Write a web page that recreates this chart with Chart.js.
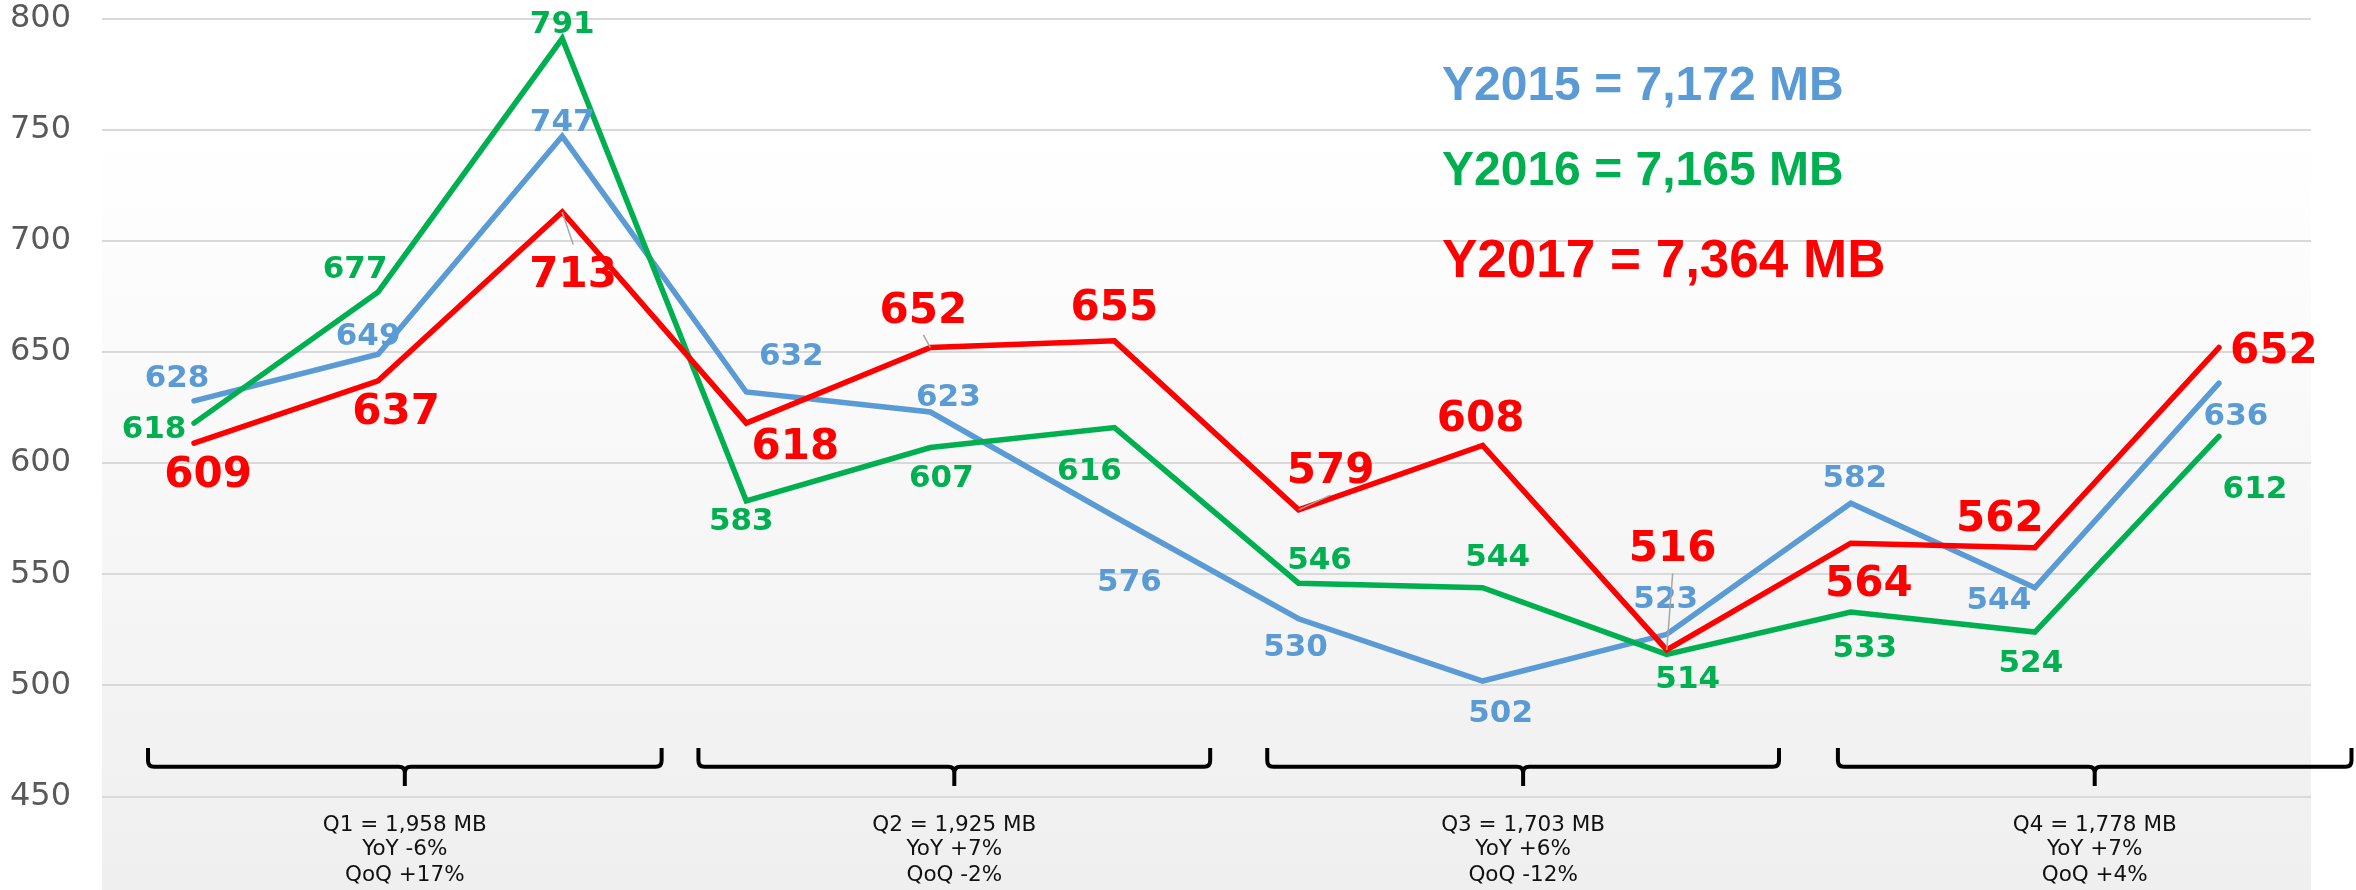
<!DOCTYPE html>
<html>
<head>
<meta charset="utf-8">
<script src="https://cdn.jsdelivr.net/npm/chart.js@4/dist/chart.umd.min.js"></script>
<style>
  html, body { margin: 0; padding: 0; background: #ffffff; }
  #wrap { width: 2356px; height: 890px; position: relative; }
</style>
</head>
<body>
<div id="wrap"><canvas id="c" width="2356" height="890"></canvas></div>
<script>
// ---------------- DATA ----------------
const months = ['Jan', 'Feb', 'Mar', 'Apr', 'May', 'Jun', 'Jul', 'Aug', 'Sep', 'Oct', 'Nov', 'Dec'];
const y2015 = [628, 649, 747, 632, 623, 576, 530, 502, 523, 582, 544, 636];
const y2016 = [618, 677, 791, 583, 607, 616, 546, 544, 514, 533, 524, 612];
const y2017 = [609, 637, 713, 618, 652, 655, 579, 608, 516, 564, 562, 652];
const seriesNames = ['Y2015', 'Y2016', 'Y2017'];
const yearTotals = ['Y2015 = 7,172 MB', 'Y2016 = 7,165 MB', 'Y2017 = 7,364 MB'];
const yTicks = [450, 500, 550, 600, 650, 700, 750, 800];
const quarterLines = [
  ['Q1 = 1,958 MB', 'YoY -6%', 'QoQ +17%'],
  ['Q2 = 1,925 MB', 'YoY +7%', 'QoQ -2%'],
  ['Q3 = 1,703 MB', 'YoY +6%', 'QoQ -12%'],
  ['Q4 = 1,778 MB', 'YoY +7%', 'QoQ +4%']
];

// ---------------- STYLE / LAYOUT ----------------
const colors = ['#5b9bd5', '#00b050', '#ff0000'];
// label offsets (pixels, label centre relative to the point)
const labelOffsets = [
  [[-17,-25],[-10,-21],[0,-17],[45,-38],[18,-17],[15,63],[-3,26],[18,30],[-1,-38],[4,-27],[-36,10],[17,31]],
  [[-40,4],[-23,-25],[0,-17],[-5,18],[11,28],[-25,41],[21,-25],[15,-33],[21,22],[14,34],[-4,29],[36,50]],
  [[14,29],[18,28],[11,60],[49,21],[-7,-40],[0,-36],[32,-42],[-2,-30],[6,-104],[18,38],[-35,-32],[55,0]]
];
const labelSizes = [31, 31, 42];
const leaderIdx = [[], [], [2, 4, 6, 8]];
// bracket spans in category units
const bracketSpans = [[-0.25, 2.54], [2.74, 5.52], [5.83, 8.61], [8.93, 11.72]];

const bgPlugin = {
  id: 'bg',
  beforeDraw(chart) {
    const { ctx, chartArea: a } = chart;
    ctx.save();
    ctx.fillStyle = '#ffffff';
    ctx.fillRect(0, 0, chart.width, chart.height);
    const g = ctx.createLinearGradient(0, a.top, 0, a.bottom);
    g.addColorStop(0, '#ffffff');
    g.addColorStop(0.13, '#ffffff');
    g.addColorStop(1, '#efefef');
    ctx.fillStyle = g;
    ctx.fillRect(a.left, a.top, a.right - a.left, a.bottom - a.top);
    ctx.restore();
  }
};

const labelPlugin = {
  id: 'vlabels',
  afterDatasetsDraw(chart) {
    const ctx = chart.ctx;
    chart.data.datasets.forEach((ds, di) => {
      const meta = chart.getDatasetMeta(di);
      const size = labelSizes[di];
      const capH = size * 0.729;
      ctx.save();
      ctx.font = 'bold ' + size + 'px "DejaVu Sans"';
      meta.data.forEach((pt, i) => {
        const off = labelOffsets[di][i];
        const cx = pt.x + off[0], cy = pt.y + off[1];
        if (leaderIdx[di].includes(i)) {
          const hh = capH / 2 + 12;
          const ey = cy + (pt.y > cy ? hh : -hh);
          ctx.strokeStyle = '#a6a6a6';
          ctx.lineWidth = 1.5;
          ctx.beginPath();
          ctx.moveTo(pt.x, pt.y);
          ctx.lineTo(cx, ey);
          ctx.stroke();
        }
        ctx.fillStyle = colors[di];
        ctx.textAlign = 'center';
        ctx.textBaseline = 'alphabetic';
        ctx.fillText(String(ds.data[i]), cx, cy + capH / 2);
      });
      ctx.restore();
    });
  }
};

const annoPlugin = {
  id: 'anno',
  afterDraw(chart) {
    const ctx = chart.ctx;
    const xs = chart.scales.x, ys = chart.scales.y;
    ctx.save();
    // year totals
    const totalSizes = [48, 48, 53];
    const totalBase = [100, 185, 277];
    yearTotals.forEach((t, i) => {
      ctx.font = 'bold ' + totalSizes[i] + 'px "Liberation Sans", Arial, sans-serif';
      ctx.fillStyle = colors[i];
      ctx.textAlign = 'left';
      ctx.textBaseline = 'alphabetic';
      ctx.fillText(t, 1442, totalBase[i]);
    });
    // quarter brackets
    const yTop = ys.getPixelForValue(471.9);
    const yLine = ys.getPixelForValue(463.4);
    const yTick = ys.getPixelForValue(454.8);
    const r = 6;
    ctx.strokeStyle = '#000000';
    ctx.lineWidth = 4;
    ctx.lineCap = 'butt';
    ctx.lineJoin = 'round';
    bracketSpans.forEach((sp, qi) => {
      const x0 = xs.getPixelForValue(sp[0]);
      const x1 = xs.getPixelForValue(sp[1]);
      const xm = (x0 + x1) / 2;
      ctx.beginPath();
      ctx.moveTo(x0, yTop);
      ctx.lineTo(x0, yLine - r);
      ctx.quadraticCurveTo(x0, yLine, x0 + r, yLine);
      ctx.lineTo(xm - r, yLine);
      ctx.quadraticCurveTo(xm, yLine, xm, yLine + r);
      ctx.lineTo(xm, yTick);
      ctx.moveTo(xm, yLine + r);
      ctx.quadraticCurveTo(xm, yLine, xm + r, yLine);
      ctx.lineTo(x1 - r, yLine);
      ctx.quadraticCurveTo(x1, yLine, x1, yLine - r);
      ctx.lineTo(x1, yTop);
      ctx.stroke();
      // quarter text
      ctx.font = '21.5px "DejaVu Sans"';
      ctx.fillStyle = '#111111';
      ctx.textAlign = 'center';
      ctx.textBaseline = 'alphabetic';
      const lineVals = [438.1, 426.9, 415.6];
      quarterLines[qi].forEach((ln, li) => {
        ctx.fillText(ln, xm, ys.getPixelForValue(lineVals[li]) + 7.5);
      });
    });
    ctx.restore();
  }
};

const mkDs = (label, data, color, order) => ({
  label, data,
  borderColor: color,
  backgroundColor: color,
  borderWidth: 5.5,
  pointRadius: 0,
  pointHoverRadius: 0,
  tension: 0,
  fill: false,
  borderCapStyle: 'round',
  borderJoinStyle: 'miter',
  order
});

new Chart(document.getElementById('c'), {
  type: 'line',
  data: {
    labels: months,
    datasets: [
      mkDs(seriesNames[0], y2015, colors[0], 3),
      mkDs(seriesNames[1], y2016, colors[1], 2),
      mkDs(seriesNames[2], y2017, colors[2], 1)
    ]
  },
  options: {
    responsive: false,
    devicePixelRatio: 1,
    animation: false,
    events: [],
    layout: { padding: { left: 10, right: 45, top: 18.5, bottom: 0 } },
    plugins: { legend: { display: false }, tooltip: { enabled: false }, title: { display: false } },
    scales: {
      x: { type: 'category', display: false, offset: true },
      y: {
        min: 408, max: 800,
        afterBuildTicks(s) { s.ticks = yTicks.map(v => ({ value: v })); },
        afterFit(s) { s.width = 92; s.paddingTop = 0; s.paddingBottom = 0; },
        grid: { color: '#d9d9d9', lineWidth: 2, drawTicks: false },
        border: { display: false },
        ticks: {
          font: { family: 'DejaVu Sans', size: 32 },
          color: '#595959',
          padding: 31
        }
      }
    }
  },
  plugins: [bgPlugin, labelPlugin, annoPlugin]
});
</script>
</body>
</html>
